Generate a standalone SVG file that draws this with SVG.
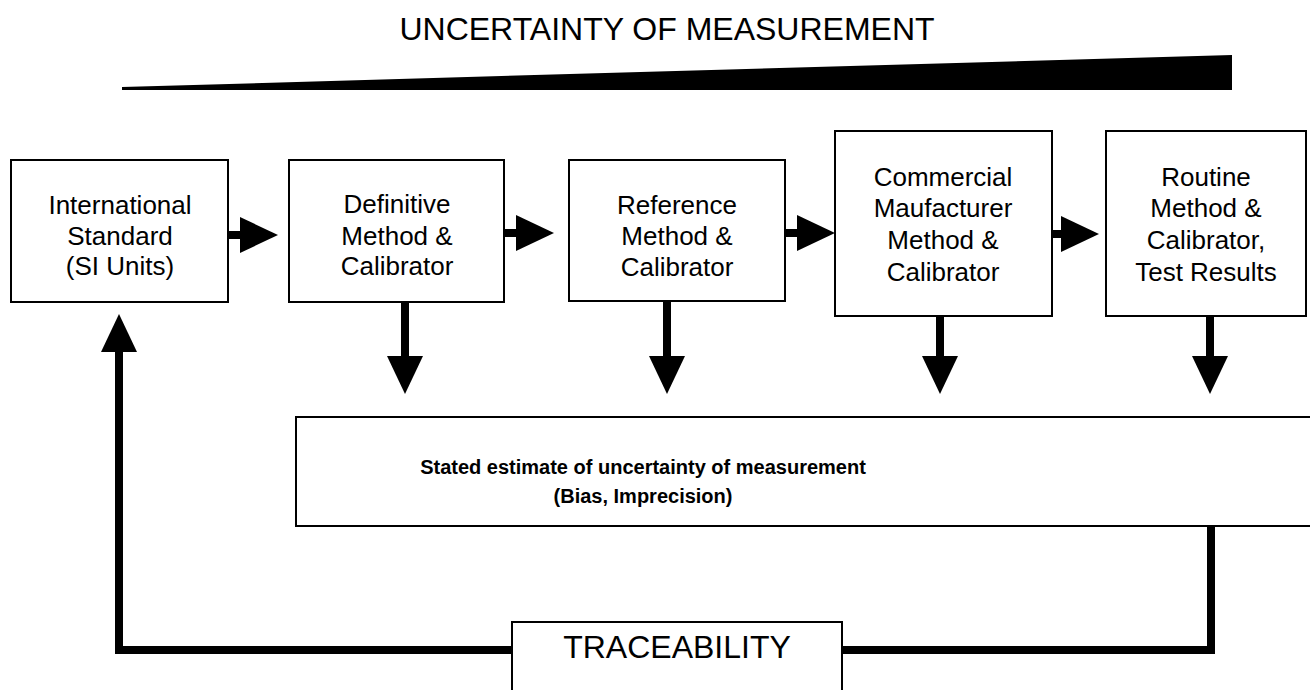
<svg xmlns="http://www.w3.org/2000/svg" width="1310" height="690" viewBox="0 0 1310 690">
  <defs>
    <style>
      .box { fill: #fff; stroke: #000; stroke-width: 2; }
      .lbl { font-family: "Liberation Sans", Arial, sans-serif; font-size: 26px; fill: #000; text-anchor: middle; }
      .big { font-family: "Liberation Sans", Arial, sans-serif; font-size: 32px; fill: #000; text-anchor: middle; }
      .bold { font-family: "Liberation Sans", Arial, sans-serif; font-size: 20px; font-weight: bold; fill: #000; text-anchor: middle; }
      .title { font-family: "Liberation Sans", Arial, sans-serif; font-size: 32px; fill: #000; text-anchor: middle; }
      .wire { fill: none; stroke: #000; stroke-width: 8; }
    </style>
    <marker id="head" markerUnits="userSpaceOnUse" markerWidth="38" markerHeight="36" refX="0" refY="18" orient="auto">
      <path d="M0,0 L38,18 L0,36 Z" fill="#000"/>
    </marker>
  </defs>

  <rect width="1310" height="690" fill="#fff"/>

  <!-- heading and increasing-uncertainty wedge -->
  <g id="heading">
    <text class="title" x="667" y="40">UNCERTAINTY OF MEASUREMENT</text>
    <polygon points="122,87 1232,55 1232,90 122,90" fill="#000"/>
  </g>

  <!-- connectors -->
  <g id="connectors">
    <line class="wire" x1="228" y1="235" x2="240" y2="235" marker-end="url(#head)"/>
    <line class="wire" x1="504" y1="233" x2="516" y2="233" marker-end="url(#head)"/>
    <line class="wire" x1="785" y1="233" x2="797" y2="233" marker-end="url(#head)"/>
    <line class="wire" x1="1052" y1="234" x2="1061" y2="234" marker-end="url(#head)"/>

    <line class="wire" x1="405" y1="302" x2="405" y2="356" marker-end="url(#head)"/>
    <line class="wire" x1="667" y1="301" x2="667" y2="356" marker-end="url(#head)"/>
    <line class="wire" x1="940" y1="316" x2="940" y2="356" marker-end="url(#head)"/>
    <line class="wire" x1="1210" y1="316" x2="1210" y2="356" marker-end="url(#head)"/>

    <path class="wire" d="M1211,526 V650 H842"/>
    <path class="wire" d="M512,650 H119 V352" marker-end="url(#head)"/>
  </g>

  <g id="international-standard">
    <rect class="box" x="11" y="160" width="217" height="142"/>
    <text class="lbl" x="120" y="214">International</text>
    <text class="lbl" x="120" y="245">Standard</text>
    <text class="lbl" x="120" y="275">(SI Units)</text>
  </g>

  <g id="definitive-method">
    <rect class="box" x="289" y="160" width="215" height="142"/>
    <text class="lbl" x="397" y="213">Definitive</text>
    <text class="lbl" x="397" y="245">Method &amp;</text>
    <text class="lbl" x="397" y="275">Calibrator</text>
  </g>

  <g id="reference-method">
    <rect class="box" x="569" y="160" width="216" height="141"/>
    <text class="lbl" x="677" y="214">Reference</text>
    <text class="lbl" x="677" y="245">Method &amp;</text>
    <text class="lbl" x="677" y="276">Calibrator</text>
  </g>

  <g id="commercial-method">
    <rect class="box" x="835" y="131" width="217" height="185"/>
    <text class="lbl" x="943" y="186">Commercial</text>
    <text class="lbl" x="943" y="217">Maufacturer</text>
    <text class="lbl" x="943" y="249">Method &amp;</text>
    <text class="lbl" x="943" y="281">Calibrator</text>
  </g>

  <g id="routine-method">
    <rect class="box" x="1106" y="131" width="200" height="185"/>
    <text class="lbl" x="1206" y="186">Routine</text>
    <text class="lbl" x="1206" y="217">Method &amp;</text>
    <text class="lbl" x="1206" y="249">Calibrator,</text>
    <text class="lbl" x="1206" y="281">Test Results</text>
  </g>

  <g id="stated-estimate">
    <rect class="box" x="296" y="417" width="1030" height="109"/>
    <text class="bold" x="643" y="474">Stated estimate of uncertainty of measurement</text>
    <text class="bold" x="643" y="503">(Bias, Imprecision)</text>
  </g>

  <g id="traceability">
    <rect class="box" x="512" y="622" width="330" height="80"/>
    <text class="big" x="677" y="658">TRACEABILITY</text>
  </g>
</svg>
